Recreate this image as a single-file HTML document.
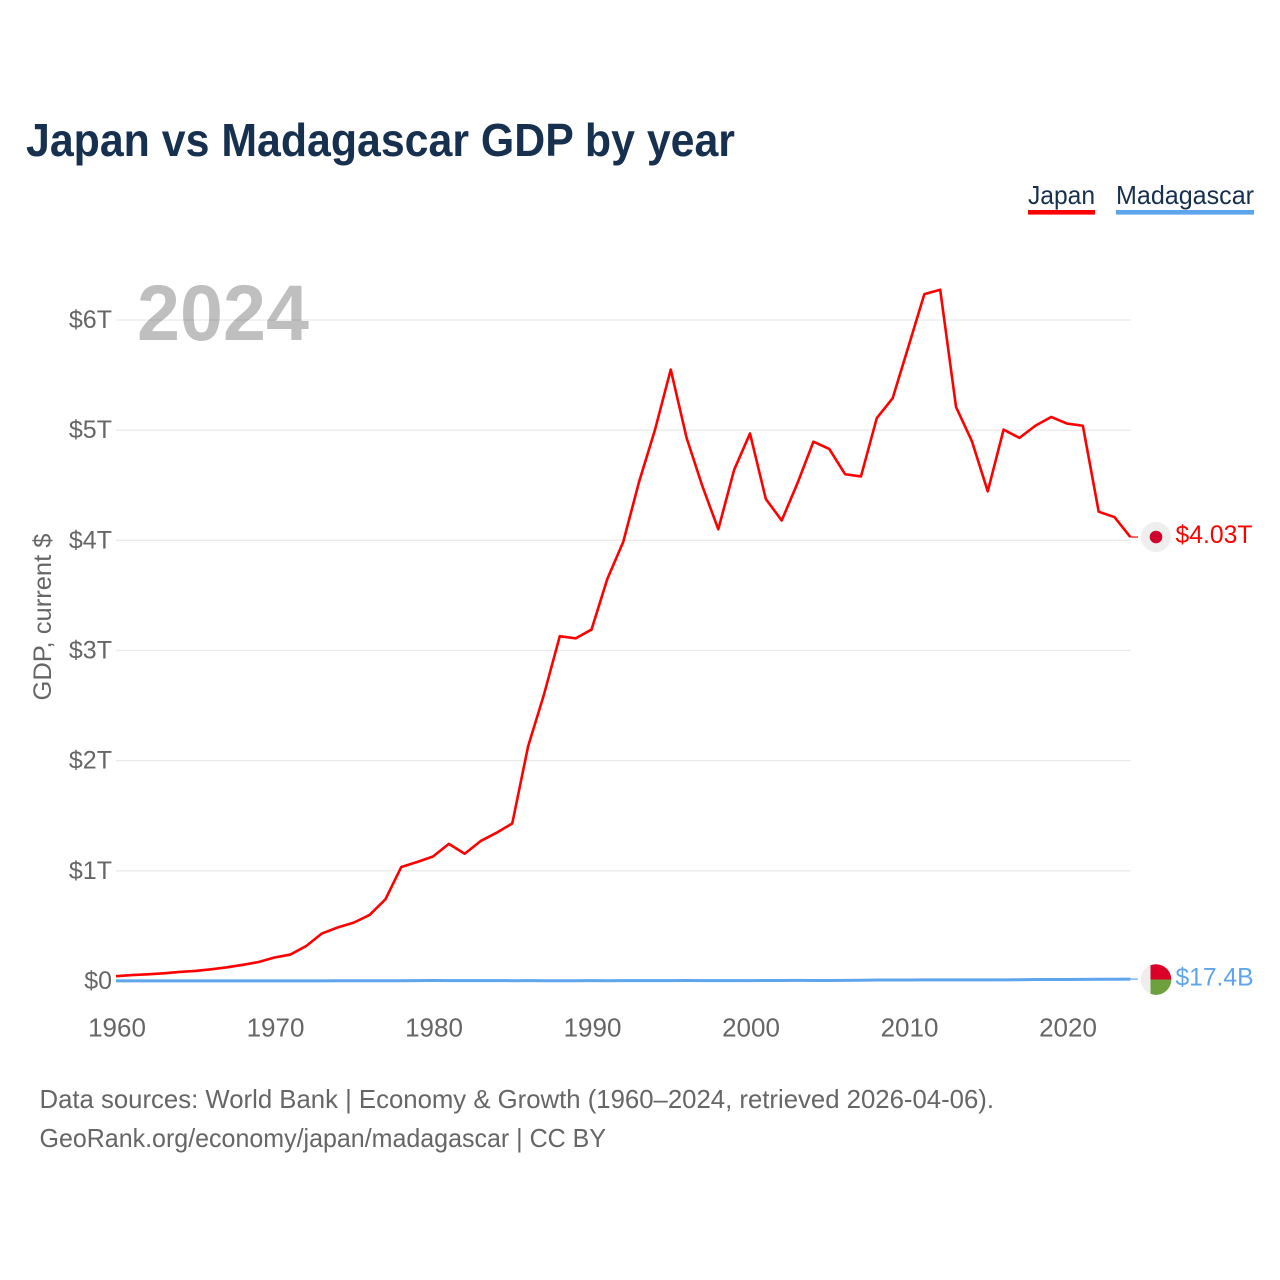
<!DOCTYPE html>
<html lang="en">
<head>
<meta charset="utf-8">
<title>Japan vs Madagascar GDP by year</title>
<style>
html,body{margin:0;padding:0;background:#fff;}
svg{display:block;font-family:"Liberation Sans",sans-serif;}
.tick{font-size:25px;fill:#666;}
.foot{font-size:26px;fill:#666;}
</style>
</head>
<body>
<svg id="chart" width="1280" height="1280" viewBox="0 0 1280 1280" xmlns="http://www.w3.org/2000/svg">
  <rect width="1280" height="1280" fill="#fff"/>
  <text x="26" y="156" font-size="46" font-weight="700" fill="#17304f" textLength="709" lengthAdjust="spacingAndGlyphs">Japan vs Madagascar GDP by year</text>

  <g>
    <g>
      <text x="1028" y="204" font-size="26" fill="#17304f" textLength="67" lengthAdjust="spacingAndGlyphs">Japan</text>
      <rect x="1028" y="210" width="67" height="4.6" fill="#ff0000"/>
    </g>
    <g>
      <text x="1116" y="204" font-size="26" fill="#17304f" textLength="138" lengthAdjust="spacingAndGlyphs">Madagascar</text>
      <rect x="1116" y="210" width="138" height="4.6" fill="#5ea5ee"/>
    </g>
  </g>

  <g id="grid"></g>
  <text x="137" y="340" font-size="79" font-weight="700" fill="#000" fill-opacity="0.25" textLength="172" lengthAdjust="spacingAndGlyphs">2024</text>
  <g id="yticks"></g>
  <g id="xticks"></g>
  <text transform="translate(51,617) rotate(-90)" text-anchor="middle" font-size="25" fill="#666" textLength="167" lengthAdjust="spacingAndGlyphs">GDP, current $</text>
  <g id="series"></g>

  <g>
    <circle cx="1156" cy="537" r="15" fill="#eeeeee"/>
    <circle cx="1156" cy="537" r="6.3" fill="#d0002c"/>
  </g>
  <g>
    <circle cx="1156" cy="979.5" r="15.3" fill="#eeeeee"/>
    <path d="M1150.5 979.5V965.3A15.3 15.3 0 0 1 1171.3 979.5Z" fill="#dc0028"/>
    <path d="M1150.5 979.5H1171.3A15.3 15.3 0 0 1 1150.5 993.8Z" fill="#6ea13d"/>
  </g>
  <text x="1175.5" y="543" font-size="25" fill="#ff0000" textLength="77" lengthAdjust="spacingAndGlyphs">$4.03T</text>
  <text x="1175.5" y="985.5" font-size="25" fill="#5ea5ee" textLength="78" lengthAdjust="spacingAndGlyphs">$17.4B</text>

  <g>
    <text class="foot" x="39.5" y="1108" textLength="954.5" lengthAdjust="spacingAndGlyphs">Data sources: World Bank | Economy &amp; Growth (1960–2024, retrieved 2026-04-06).</text>
    <text class="foot" x="39.5" y="1147" textLength="566.5" lengthAdjust="spacingAndGlyphs">GeoRank.org/economy/japan/madagascar | CC BY</text>
  </g>
</svg>
<script>
const firstYear = 1960;
const xTickYears = [1960, 1970, 1980, 1990, 2000, 2010, 2020];
const yTickValues = [0, 1, 2, 3, 4, 5, 6];
const yTickLabels = ['$0', '$1T', '$2T', '$3T', '$4T', '$5T', '$6T'];
const japanGdp = [
  0.044, 0.054, 0.061, 0.070, 0.082, 0.091, 0.106, 0.124, 0.147, 0.172,
  0.213, 0.240, 0.318, 0.432, 0.487, 0.530, 0.600, 0.742, 1.035, 1.080,
  1.130, 1.245, 1.155, 1.270, 1.345, 1.430, 2.130, 2.600, 3.130, 3.110,
  3.190, 3.650, 3.985, 4.530, 5.000, 5.550, 4.930, 4.490, 4.100, 4.640,
  4.970, 4.375, 4.180, 4.520, 4.895, 4.830, 4.600, 4.580, 5.110, 5.290,
  5.760, 6.235, 6.275, 5.210, 4.900, 4.445, 5.005, 4.930, 5.040, 5.120,
  5.060, 5.040, 4.260, 4.210, 4.030
];
const madagascarGdp = [
  0.0007, 0.0007, 0.0007, 0.0008, 0.0008, 0.0009, 0.0009, 0.0010, 0.0010, 0.0011,
  0.0011, 0.0012, 0.0013, 0.0016, 0.0017, 0.0021, 0.0020, 0.0022, 0.0026, 0.0032,
  0.0040, 0.0039, 0.0037, 0.0035, 0.0030, 0.0028, 0.0030, 0.0024, 0.0024, 0.0025,
  0.0031, 0.0027, 0.0030, 0.0034, 0.0030, 0.0032, 0.0040, 0.0035, 0.0037, 0.0037,
  0.0039, 0.0045, 0.0044, 0.0055, 0.0044, 0.0050, 0.0055, 0.0073, 0.0094, 0.0086,
  0.0087, 0.0099, 0.0100, 0.0106, 0.0107, 0.0097, 0.0100, 0.0115, 0.0138, 0.0141,
  0.0131, 0.0145, 0.0154, 0.0161, 0.0174
];

const svgNs = 'http://www.w3.org/2000/svg';
const xScale = function (year) { return 116 + (year - 1960) * (951 / 60); };
const yScale = function (v) { return 981 - v * (661 / 6); };

const gridGroup = document.getElementById('grid');
const yGroup = document.getElementById('yticks');
const xGroup = document.getElementById('xticks');
const seriesGroup = document.getElementById('series');

yTickValues.forEach(function (v, i) {
  if (v > 0) {
    const line = document.createElementNS(svgNs, 'line');
    
    
    line.setAttribute('x1', 116);
    line.setAttribute('x2', 1131);
    line.setAttribute('y1', yScale(v));
    line.setAttribute('y2', yScale(v));
    line.setAttribute('stroke', '#ebebeb');
    line.setAttribute('stroke-width', '1.3');
    gridGroup.appendChild(line);
  }
  const label = document.createElementNS(svgNs, 'text');
  
  
  label.setAttribute('class', 'tick');
  label.setAttribute('x', 112);
  label.setAttribute('y', yScale(v) + 8);
  label.setAttribute('text-anchor', 'end');
  label.textContent = yTickLabels[i];
  yGroup.appendChild(label);
});

xTickYears.forEach(function (year) {
  const label = document.createElementNS(svgNs, 'text');
  
  
  label.setAttribute('class', 'tick');
  label.setAttribute('style', 'font-size:26px');
  label.setAttribute('x', xScale(year) + 1);
  label.setAttribute('y', 1036.5);
  label.setAttribute('text-anchor', 'middle');
  label.textContent = String(year);
  xGroup.appendChild(label);
});

function linePoints(values) {
  return values.map(function (v, i) {
    return xScale(firstYear + i).toFixed(2) + ',' + yScale(v).toFixed(2);
  }).join(' ');
}

const japanLine = document.createElementNS(svgNs, 'polyline');


japanLine.setAttribute('points', linePoints(japanGdp));
japanLine.setAttribute('fill', 'none');
japanLine.setAttribute('stroke', '#ff0000');
japanLine.setAttribute('stroke-width', '2.6');
japanLine.setAttribute('stroke-linejoin', 'round');
seriesGroup.appendChild(japanLine);

const madagascarLine = document.createElementNS(svgNs, 'polyline');


madagascarLine.setAttribute('points', linePoints(madagascarGdp));
madagascarLine.setAttribute('fill', 'none');
madagascarLine.setAttribute('stroke', '#5ea5ee');
madagascarLine.setAttribute('stroke-width', '3');
madagascarLine.setAttribute('stroke-linejoin', 'round');
seriesGroup.appendChild(madagascarLine);

const japanConnector = document.createElementNS(svgNs, 'line');


japanConnector.setAttribute('x1', xScale(firstYear + japanGdp.length - 1));
japanConnector.setAttribute('x2', 1138);
japanConnector.setAttribute('y1', yScale(japanGdp[japanGdp.length - 1]));
japanConnector.setAttribute('y2', yScale(japanGdp[japanGdp.length - 1]));
japanConnector.setAttribute('stroke', '#ff0000');
japanConnector.setAttribute('stroke-width', '1.2');
seriesGroup.appendChild(japanConnector);

const madagascarConnector = document.createElementNS(svgNs, 'line');


madagascarConnector.setAttribute('x1', xScale(firstYear + madagascarGdp.length - 1));
madagascarConnector.setAttribute('x2', 1138);
madagascarConnector.setAttribute('y1', yScale(madagascarGdp[madagascarGdp.length - 1]));
madagascarConnector.setAttribute('y2', yScale(madagascarGdp[madagascarGdp.length - 1]));
madagascarConnector.setAttribute('stroke', '#5ea5ee');
madagascarConnector.setAttribute('stroke-width', '1.2');
seriesGroup.appendChild(madagascarConnector);
</script>
</body>
</html>
